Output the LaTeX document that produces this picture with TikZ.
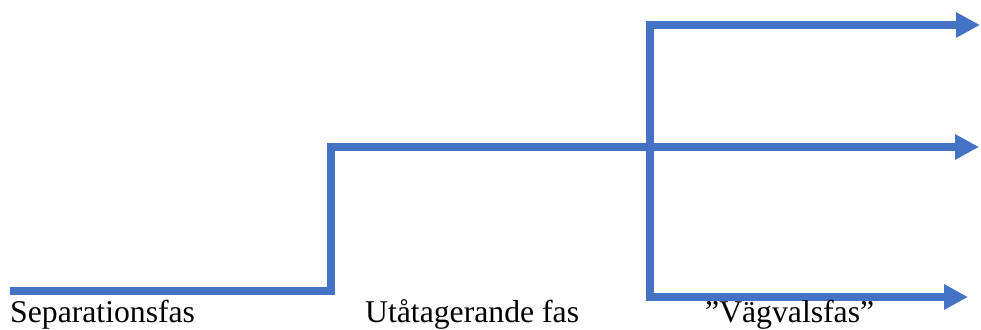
\documentclass[tikz,border=0pt]{standalone}
\usepackage{fontspec}
\setmainfont{Liberation Serif}
\usetikzlibrary{arrows.meta}
\definecolor{phaseblue}{HTML}{4472C4}
\begin{document}
\begin{tikzpicture}[x=1pt,y=-1pt,
  flow/.style={draw=phaseblue,line width=8pt,line join=miter,line cap=butt},
  flowarrow/.style={flow,-{Triangle[length=24pt,width=24pt]}},
  phase/.style={anchor=base west,inner sep=0pt,font=\fontsize{31.7}{38}\selectfont}]
\useasboundingbox (0,0) rectangle (981,329);
\coordinate (start) at (10,291);
\coordinate (step1) at (331,147);
\coordinate (fork) at (650,147);
\coordinate (topend) at (980,25);
\coordinate (midend) at (979,147);
\coordinate (botend) at (968,297);
\coordinate (forktop) at (650,25);
\coordinate (forkbot) at (650,297);
\draw[flowarrow] (start) -| (step1) -- (midend);
\draw[flowarrow] (forkbot) -- (forktop) -- (topend);
\draw[flowarrow] (forktop) -- (forkbot) -- (botend);
\node[phase] (sep) at (10,322) {Separationsfas};
\node[phase] (uta) at (365,322) {Utåtagerande fas};
\node[phase] (vag) at (705,322) {”Vägvalsfas”};
\end{tikzpicture}
\end{document}
